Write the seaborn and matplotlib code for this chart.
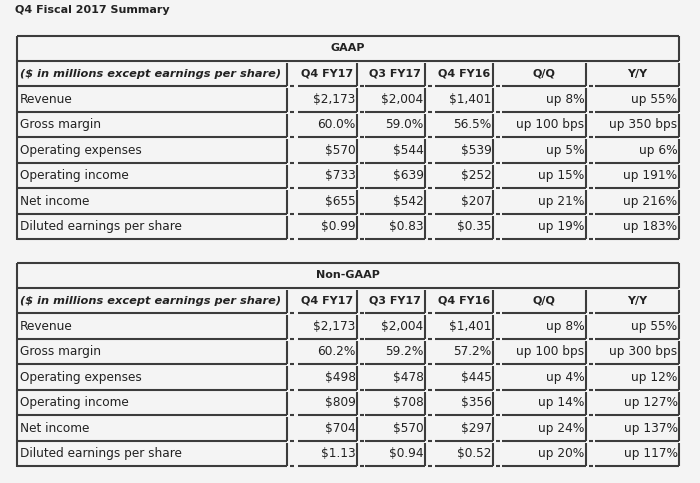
import matplotlib
matplotlib.use("Agg")
import matplotlib.pyplot as plt
import seaborn as sns

# data
col_heads = ["($ in millions except earnings per share)", "Q4 FY17", "Q3 FY17", "Q4 FY16", "Q/Q", "Y/Y"]
row_names = ["Revenue", "Gross margin", "Operating expenses", "Operating income",
             "Net income", "Diluted earnings per share"]

gaap_q4fy17 = ["$2,173", "60.0%", "$570", "$733", "$655", "$0.99"]
gaap_q3fy17 = ["$2,004", "59.0%", "$544", "$639", "$542", "$0.83"]
gaap_q4fy16 = ["$1,401", "56.5%", "$539", "$252", "$207", "$0.35"]
gaap_qq = ["up 8%", "up 100 bps", "up 5%", "up 15%", "up 21%", "up 19%"]
gaap_yy = ["up 55%", "up 350 bps", "up 6%", "up 191%", "up 216%", "up 183%"]

nongaap_q4fy17 = ["$2,173", "60.2%", "$498", "$809", "$704", "$1.13"]
nongaap_q3fy17 = ["$2,004", "59.2%", "$478", "$708", "$570", "$0.94"]
nongaap_q4fy16 = ["$1,401", "57.2%", "$445", "$356", "$297", "$0.52"]
nongaap_qq = ["up 8%", "up 100 bps", "up 4%", "up 14%", "up 24%", "up 20%"]
nongaap_yy = ["up 55%", "up 300 bps", "up 12%", "up 127%", "up 137%", "up 117%"]

sns.set_theme(style="white")
plt.rcParams["font.family"] = ["DejaVu Sans"]

bg = "#f4f4f4"
line_c = "#3c3c3c"
txt_c = "#222222"

fig = plt.figure(figsize=(7, 4.83), dpi=100, facecolor=bg)
ax = fig.add_axes([0, 0, 1, 1])
ax.set_facecolor(bg)
ax.set_xlim(0, 700)
ax.set_ylim(483, 0)
ax.axis("off")

col_left = [17, 298, 365, 435, 502, 595]
col_right = [287, 357, 425, 493, 586, 679]
lw = 1.5
fs = 8          # bold headers / title
fs_body = 8.7   # cell text


def hline(y, x0, x1):
    ax.plot([x0, x1], [y, y], color=line_c, lw=lw, solid_capstyle="butt")


def vline(x, y0, y1):
    ax.plot([x, x], [y0, y1], color=line_c, lw=lw, solid_capstyle="butt")


def draw_table(top, title, cols):
    rh = 25.5
    bottom = top + rh * 8
    # title row
    hline(top, col_left[0], col_right[-1])
    hline(top + 24.5, col_left[0], col_right[-1])
    vline(col_left[0], top, bottom)
    vline(col_right[-1], top, top + 24.5)
    ax.text((col_left[0] + col_right[-1]) / 2, top + 12, title, ha="center", va="center",
            fontsize=fs, fontweight="bold", color=txt_c)
    rows = [col_heads] + [[row_names[i]] + [c[i] for c in cols] for i in range(len(row_names))]
    for r, row in enumerate(rows):
        y0 = top + 24.5 + rh * r
        y1 = y0 + rh
        yc = (y0 + y1) / 2 + 0.5
        for c, val in enumerate(row):
            hline(y1, col_left[c], col_right[c])
            vline(col_right[c], y0 + 2, y1)
            if c < len(row) - 1:
                hline(y1, col_right[c] + 3, col_right[c] + 7)
            if r == 0:
                if c == 0:
                    ax.text(col_left[c] + 3, yc, val, ha="left", va="center", fontsize=8.2,
                            fontweight="bold", fontstyle="italic", color=txt_c)
                else:
                    ax.text((col_left[c] + col_right[c]) / 2, yc, val, ha="center", va="center",
                            fontsize=fs, fontweight="bold", color=txt_c)
            elif c == 0:
                ax.text(col_left[c] + 3, yc, val, ha="left", va="center", fontsize=fs_body, color=txt_c)
            else:
                ax.text(col_right[c] - 1.5, yc, val, ha="right", va="center", fontsize=fs_body, color=txt_c)


ax.text(15, 10, "Q4 Fiscal 2017 Summary", ha="left", va="center", fontsize=fs,
        fontweight="bold", color=txt_c)

draw_table(36, "GAAP", [gaap_q4fy17, gaap_q3fy17, gaap_q4fy16, gaap_qq, gaap_yy])
draw_table(263, "Non-GAAP", [nongaap_q4fy17, nongaap_q3fy17, nongaap_q4fy16, nongaap_qq, nongaap_yy])

fig.savefig("out.png", dpi=100, facecolor=bg)
